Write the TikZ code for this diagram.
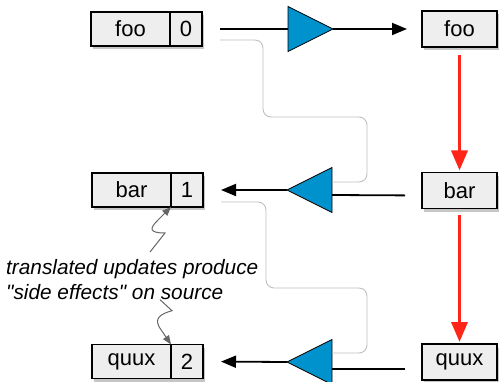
\documentclass[tikz,border=0pt]{standalone}
\usepackage{fontspec}
\setmainfont{Liberation Sans}[Ligatures=TeXOff]
\usetikzlibrary{positioning,shapes.geometric,shadows,arrows.meta}

\definecolor{boxgray}{RGB}{238,238,238}
\definecolor{ampblue}{RGB}{0,146,204}
\definecolor{flowred}{RGB}{255,38,25}

\tikzset{
  cell/.style={draw, line width=1.1pt, fill=boxgray, inner sep=0pt, outer sep=0pt,
    minimum height=34pt, font=\fontsize{22}{26}\selectfont,
    drop shadow={shadow xshift=1.5pt, shadow yshift=-3.5pt, opacity=0.45}},
  namecell/.style={cell, minimum width=79pt},
  numcell/.style={cell, minimum width=32pt},
  viewbox/.style={cell, minimum width=75pt, minimum height=36pt},
  amp/.style={isosceles triangle, isosceles triangle stretches, draw, line width=0.8pt,
    fill=ampblue, minimum width=45pt, minimum height=45pt, inner sep=0pt, outer sep=0pt,
    anchor=lower side},
  wire/.style={line width=1.8pt},
  fwd/.style={wire, -{Triangle[width=12pt,length=15pt]}},
  putarrow/.style={line width=3.5pt, flowred, -{Triangle[width=16pt,length=20pt]}},
  tracepath/.style={gray!50, line width=0.9pt, rounded corners=8pt},
  sidefx/.style={gray!80!black, line width=1pt, -{Triangle[width=7pt,length=9pt]}},
  note/.style={font=\fontsize{20.8}{25}\selectfont\itshape, align=left, inner sep=0pt}
}

\begin{document}
\begin{tikzpicture}[x=1pt,y=-1pt]
  \useasboundingbox (0,0) rectangle (501,382);

  % source side
  \node[namecell] (foo) at (130.5,29) {foo};
  \node[numcell, right=0pt of foo] (n0) {0};
  \node[namecell] (bar) at (131.5,190) {bar};
  \node[numcell, right=0pt of bar] (n1) {1};
  \node[namecell] (quux) at (131.5,361.5) {quux};
  \node[numcell, right=0pt of quux] (n2) {2};

  % view side
  \node[viewbox] (fooR) at (459.5,29) {foo};
  \node[viewbox] (barR) at (459.5,190.5) {bar};
  \node[viewbox] (quuxR) at (459.5,362) {quux};

  % lenses
  \node[amp] (amp1) at (288,29) {};
  \node[amp, shape border rotate=180] (amp2) at (332,190) {};
  \node[amp, shape border rotate=180] (amp3) at (332,362) {};

  \node[note, anchor=north west] (note) at (6,259)
    {translated updates produce\\"side effects" on source};

  % get
  \draw[wire, shorten <=18pt] (n0.east) -- (amp1.lower side);
  \draw[fwd, shorten >=15pt] (amp1.apex) -- (fooR.west);

  % put
  \draw[wire, shorten <=17pt] ([yshift=-5pt]barR.west) -- ([yshift=-5pt]amp2.lower side);
  \draw[fwd, shorten >=18pt] (amp2.apex) -- (n1.east);
  \draw[wire, shorten <=17pt] ([yshift=-7pt]quuxR.west) -- ([yshift=-7pt]amp3.lower side);
  \draw[fwd, shorten >=18pt] (amp3.apex) -- (n2.east);

  \draw[putarrow, shorten <=8pt, shorten >=2pt] (fooR.south) -- (barR.north);
  \draw[putarrow, shorten <=7pt, shorten >=2pt] (barR.south) -- (quuxR.north);

  % source fed back into the lens
  \draw[tracepath] ([shift={(18,11)}]n0.east) -| ++(43,77)
    -| ([shift={(35,-8)}]amp2.lower side) -- ([shift={(0,-8)}]amp2.lower side);
  \draw[tracepath] ([shift={(18,12)}]n1.east) -| ++(45,86)
    -| ([shift={(35,-9)}]amp3.lower side) -- ([shift={(0,-9)}]amp3.lower side);

  % side effects
  \draw[sidefx] ([shift={(144,-7)}]note.north west) -- ++(15,-19)
    .. controls +(-17,0) and +(-8,8) .. ++(-7,-13) -- (n1.south west);
  \draw[sidefx] ([shift={(154,0)}]note.south west) -- ++(12,11)
    .. controls +(-10,3) and +(-9,-12) .. ++(-11,19) -- (n2.north west);
\end{tikzpicture}
\end{document}
